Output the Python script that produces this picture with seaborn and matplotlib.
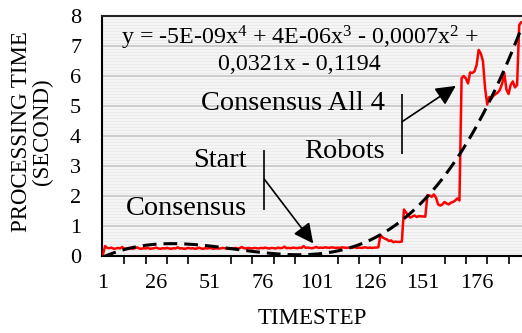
import numpy as np
import pandas as pd
import matplotlib
matplotlib.use("Agg")
import matplotlib.pyplot as plt
import seaborn as sns
from matplotlib.ticker import FixedLocator, MultipleLocator

# ---------------- data ----------------
processing_time = [
    0.05, 0.33, 0.27, 0.26, 0.28, 0.24, 0.25, 0.27, 0.25, 0.30,
    0.24, 0.25, 0.27, 0.25, 0.24, 0.26, 0.29, 0.25, 0.24, 0.26,
    0.25, 0.27, 0.24, 0.25, 0.26, 0.28, 0.25, 0.24, 0.26, 0.25,
    0.27, 0.25, 0.24, 0.26, 0.25, 0.29, 0.25, 0.26, 0.24, 0.25,
    0.27, 0.25, 0.26, 0.24, 0.25, 0.28, 0.25, 0.24, 0.26, 0.25,
    0.27, 0.25, 0.24, 0.26, 0.25, 0.25, 0.27, 0.26, 0.25, 0.24,
    0.26, 0.25, 0.27, 0.25, 0.26, 0.30, 0.26, 0.25, 0.27, 0.26,
    0.25, 0.27, 0.26, 0.25, 0.27, 0.26, 0.28, 0.26, 0.25, 0.27,
    0.26, 0.25, 0.28, 0.26, 0.27, 0.31, 0.26, 0.27, 0.26, 0.28,
    0.27, 0.26, 0.28, 0.27, 0.33, 0.27, 0.28, 0.27, 0.26, 0.28,
    0.30, 0.27, 0.28, 0.27, 0.29, 0.28, 0.27, 0.29, 0.28, 0.27,
    0.28, 0.27, 0.29, 0.28, 0.27, 0.28, 0.27, 0.28, 0.29, 0.27,
    0.28, 0.27, 0.28, 0.29, 0.27, 0.28, 0.27, 0.28, 0.28, 0.29,
    0.70, 0.62, 0.58, 0.55, 0.50, 0.52, 0.46, 0.48, 0.47, 0.47,
    0.48, 1.55, 1.45, 1.35, 1.28, 1.32, 1.35, 1.30, 1.33, 1.32,
    1.32, 1.31, 2.03, 2.02, 1.97, 2.05, 1.95, 1.72, 1.68, 1.72,
    1.80, 1.75, 1.72, 1.78, 1.80, 1.85, 1.92, 1.85, 5.93, 6.00,
    5.92, 5.75, 6.12, 6.10, 6.15, 6.35, 6.87, 6.75, 6.50, 5.60,
    5.05, 5.30, 5.25, 5.35, 5.40, 5.45, 5.55, 5.75, 6.10, 5.55,
    5.40, 5.70, 5.82, 5.62, 5.70, 7.70, 7.80,
]
timesteps = np.arange(1, len(processing_time) + 1)
x_tick_labels = [1, 26, 51, 76, 101, 126, 151, 176]
y_ticks = [0, 1, 2, 3, 4, 5, 6, 7, 8]

eq_line1 = "y = -5E-09x$^{4}$ + 4E-06x$^{3}$ - 0,0007x$^{2}$ +"
eq_line2 = "0,0321x - 0,1194"

# ---------------- style ----------------
sns.set_theme(style="white")
plt.rcParams["font.family"] = ["Liberation Serif", "DejaVu Serif"]
plt.rcParams["mathtext.fontset"] = "custom"
plt.rcParams["mathtext.rm"] = "Liberation Serif"
plt.rcParams["mathtext.it"] = "Liberation Serif:italic"
plt.rcParams["text.color"] = "black"

fig = plt.figure(figsize=(5.22, 3.33), dpi=100)
ax = fig.add_axes([102 / 522, 1 - 256 / 333, 420 / 522, 240 / 333])
ax.set_facecolor("#f5f5f5")

df = pd.DataFrame({"timestep": timesteps, "time": processing_time})

sns.lineplot(data=df, x="timestep", y="time", color="#ff0000", lw=1.8,
             ax=ax, zorder=3)
sns.regplot(data=df, x="timestep", y="time", order=4, scatter=False, ci=None,
            ax=ax, line_kws=dict(color="black", lw=2.2, ls=(0, (4.5, 2.3)),
                                 zorder=4))

ax.set_xlim(0.55, 197.3)
ax.set_ylim(0, 8)

# ticks
ax.xaxis.set_major_locator(FixedLocator(x_tick_labels))
ax.xaxis.set_minor_locator(FixedLocator(list(range(1, 198, 10))))
ax.yaxis.set_major_locator(FixedLocator(y_ticks))
ax.yaxis.set_minor_locator(MultipleLocator(0.1))
ax.tick_params(axis="x", which="major", length=0, pad=13, labelsize=16,
               labelcolor="black")
ax.tick_params(axis="x", which="minor", length=6, width=1.2, color="black",
               direction="out", bottom=True)
ax.tick_params(axis="y", which="both", length=0, pad=15, labelsize=16,
               labelcolor="black")

# grid
ax.grid(False)
ax.grid(axis="y", which="minor", color="#e8e8e8", lw=0.6)
ax.grid(axis="y", which="major", color="#c9c9c9", lw=1.3)
ax.set_axisbelow(True)

for s in ["left", "bottom", "top"]:
    ax.spines[s].set_color("black")
    ax.spines[s].set_linewidth(1.5)
ax.spines["top"].set_color("#222222")
ax.spines["right"].set_visible(False)

# axis labels
ax.set_xlabel("TIMESTEP", fontsize=16.5, color="black")
ax.xaxis.set_label_coords(0.5, (256 - 318) / 240)
ax.xaxis.label.set_verticalalignment("center")
ax.set_ylabel("PROCESSING TIME\n(SECOND)", fontsize=16.5, color="black",
              linespacing=0.95)
ax.yaxis.set_label_coords((32 - 102) / 420, 0.52)
ax.yaxis.label.set_verticalalignment("center")

# equation
ax.text(93.3, 7.27, eq_line1, fontsize=17.3, ha="center", va="center")
ax.text(93.1, 6.37, eq_line2, fontsize=17.3, ha="center", va="center")

# callouts
ax.text(133.1, 5.1, "Consensus All 4", fontsize=20.4, ha="right", va="center")
ax.text(133.1, 3.47, "Robots", fontsize=20.4, ha="right", va="center")
ax.text(68.3, 3.18, "Start", fontsize=20.4, ha="right", va="center")
ax.text(68.3, 1.59, "Consensus", fontsize=20.4, ha="right", va="center")

ax.vlines(76.6, 1.53, 3.53, color="black", lw=1.2, zorder=5)
ax.vlines(141.2, 3.39, 5.39, color="black", lw=1.2, zorder=5)
arrow = dict(arrowstyle="-|>,head_length=0.6,head_width=0.3",
             color="black", lw=1.2, shrinkA=0, shrinkB=0, mutation_scale=20)
ax.annotate("", xy=(99.5, 0.42), xytext=(76.6, 2.56), arrowprops=arrow,
            zorder=5)
ax.annotate("", xy=(166.3, 5.67), xytext=(141.2, 4.48), arrowprops=arrow,
            zorder=5)

fig.savefig("out.png", dpi=100)
